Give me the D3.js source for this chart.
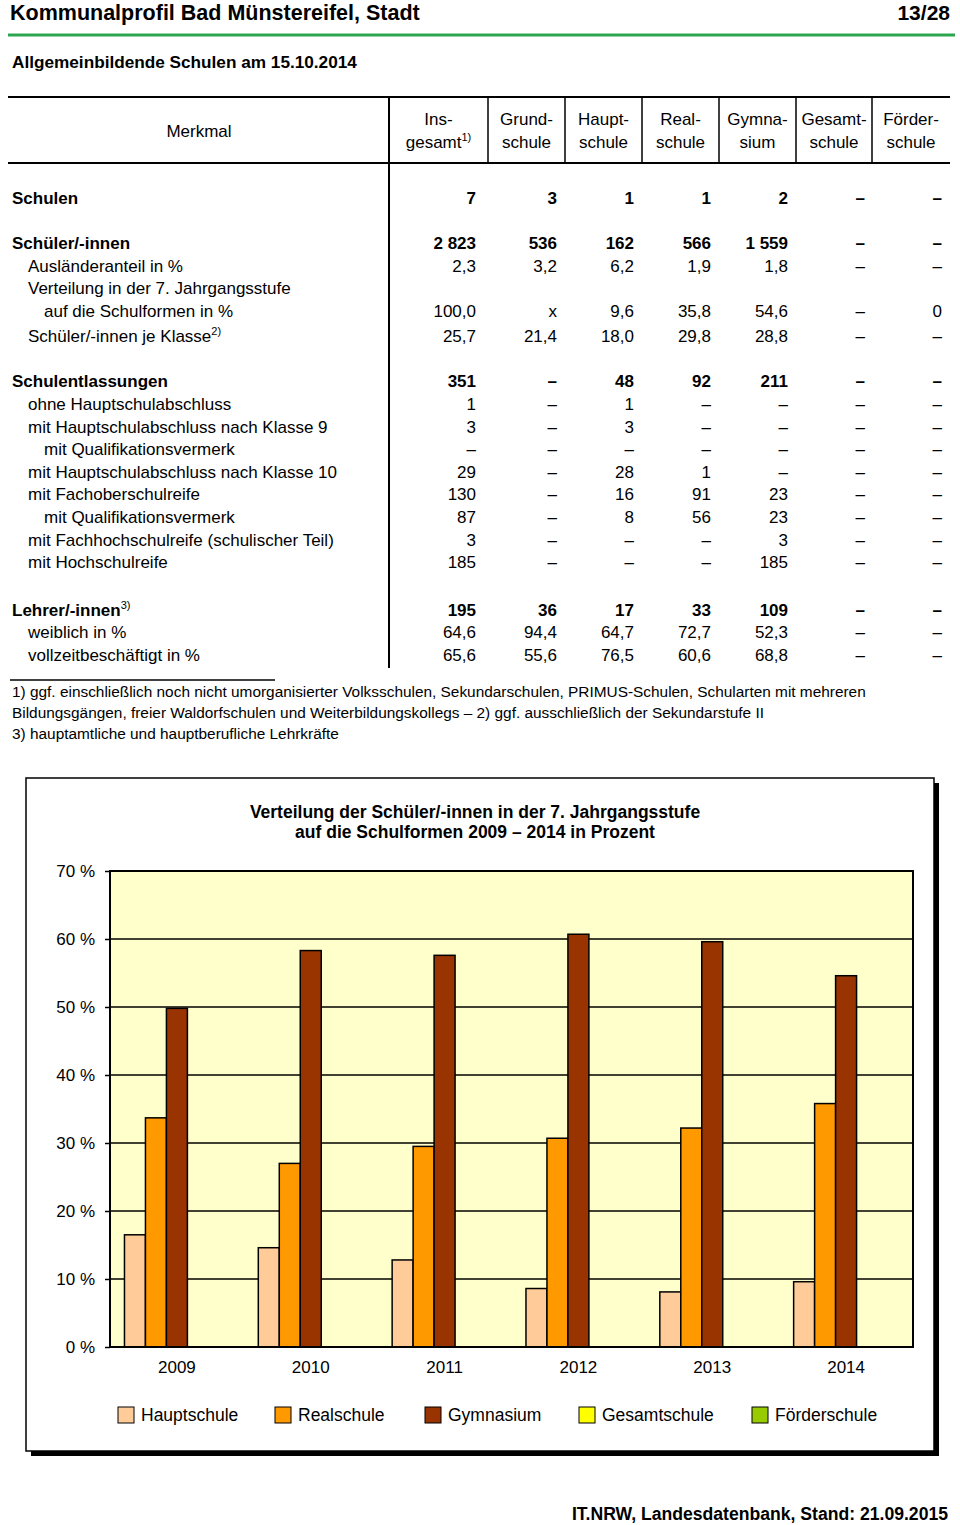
<!DOCTYPE html>
<html lang="de">
<head>
    <meta charset="UTF-8">
    <title>Kommunalprofil Bad Münstereifel</title>
    <script src="https://d3js.org/d3.v7.min.js"></script>
    <style>
        html, body {
            margin: 0;
            background: white;
            font-family: "Liberation Sans", Arial, sans-serif;
        }
    </style>
</head>
<body>
    <div id="vis"></div>
    <script>

        // ---- table data ----
        var columns = [['Ins-', 'gesamt'], ['Grund-', 'schule'], ['Haupt-', 'schule'], ['Real-', 'schule'],
                       ['Gymna-', 'sium'], ['Gesamt-', 'schule'], ['Förder-', 'schule']];

        var rowLabels = ['Schulen', null, 'Schüler/-innen', 'Ausländeranteil in %', 'Verteilung in der 7. Jahrgangsstufe',
                         'auf die Schulformen in %', 'Schüler/-innen je Klasse', null, 'Schulentlassungen',
                         'ohne Hauptschulabschluss', 'mit Hauptschulabschluss nach Klasse 9', 'mit Qualifikationsvermerk',
                         'mit Hauptschulabschluss nach Klasse 10', 'mit Fachoberschulreife', 'mit Qualifikationsvermerk',
                         'mit Fachhochschulreife (schulischer Teil)', 'mit Hochschulreife', null, 'Lehrer/-innen',
                         'weiblich in %', 'vollzeitbeschäftigt in %'];

        var rowLevels = [0, 0, 0, 1, 1, 2, 1, 0, 0, 1, 1, 2, 1, 1, 2, 1, 1, 0, 0, 1, 1];
        var rowNotes  = [null, null, null, null, null, null, '2)', null, null, null, null, null, null, null, null, null, null, null, '3)', null, null];

        var rowValues = [
            ['7', '3', '1', '1', '2', '–', '–'],
            null,
            ['2 823', '536', '162', '566', '1 559', '–', '–'],
            ['2,3', '3,2', '6,2', '1,9', '1,8', '–', '–'],
            null,
            ['100,0', 'x', '9,6', '35,8', '54,6', '–', '0'],
            ['25,7', '21,4', '18,0', '29,8', '28,8', '–', '–'],
            null,
            ['351', '–', '48', '92', '211', '–', '–'],
            ['1', '–', '1', '–', '–', '–', '–'],
            ['3', '–', '3', '–', '–', '–', '–'],
            ['–', '–', '–', '–', '–', '–', '–'],
            ['29', '–', '28', '1', '–', '–', '–'],
            ['130', '–', '16', '91', '23', '–', '–'],
            ['87', '–', '8', '56', '23', '–', '–'],
            ['3', '–', '–', '–', '3', '–', '–'],
            ['185', '–', '–', '–', '185', '–', '–'],
            null,
            ['195', '36', '17', '33', '109', '–', '–'],
            ['64,6', '94,4', '64,7', '72,7', '52,3', '–', '–'],
            ['65,6', '55,6', '76,5', '60,6', '68,8', '–', '–']
        ];

        var footnotes = [
            '1) ggf. einschließlich noch nicht umorganisierter Volksschulen, Sekundarschulen, PRIMUS-Schulen, Schularten mit mehreren',
            'Bildungsgängen, freier Waldorfschulen und Weiterbildungskollegs – 2) ggf. ausschließlich der Sekundarstufe II',
            '3) hauptamtliche und hauptberufliche Lehrkräfte'
        ];

        // ---- chart data ----
        var years = ['2009', '2010', '2011', '2012', '2013', '2014'];
        var series = ['Hauptschule', 'Realschule', 'Gymnasium', 'Gesamtschule', 'Förderschule'];
        var hauptschule  = [16.5, 14.6, 12.8, 8.6, 8.1, 9.6];
        var realschule   = [33.7, 27.0, 29.5, 30.7, 32.2, 35.8];
        var gymnasium    = [49.8, 58.3, 57.6, 60.7, 59.6, 54.6];
        var gesamtschule = [0, 0, 0, 0, 0, 0];
        var foerderschule = [0, 0, 0, 0, 0, 0];
        var yTicks = [0, 10, 20, 30, 40, 50, 60, 70];
        var seriesColours = ['#ffcc99', '#ff9900', '#993300', '#ffff00', '#99cc00'];

        var width = 960,
            height = 1525;

        var svg = d3.select('#vis')
                    .append('svg')
                        .attr('width', width)
                        .attr('height', height)
                        .style('font-family', '"Liberation Sans", Arial, sans-serif');

        // ---- page header ----
        svg.append('text')
            .attr('x', 10)
            .attr('y', 20)
            .attr('font-size', '21.5px')
            .attr('font-weight', 'bold')
            .text('Kommunalprofil Bad Münstereifel, Stadt');

        svg.append('text')
            .attr('x', 950)
            .attr('y', 20)
            .attr('font-size', '21px')
            .attr('font-weight', 'bold')
            .attr('text-anchor', 'end')
            .text('13/28');

        svg.append('line')
            .attr('x1', 8).attr('x2', 955)
            .attr('y1', 35).attr('y2', 35)
            .attr('stroke', '#2ca54f')
            .attr('stroke-width', 3);

        svg.append('text')
            .attr('x', 12)
            .attr('y', 68)
            .attr('font-size', '17.2px')
            .attr('font-weight', 'bold')
            .text('Allgemeinbildende Schulen am 15.10.2014');

        // ---- table ----
        var colEdges = [389, 488, 565, 642, 719, 796, 872, 950];
        var colRight = [476, 557, 634, 711, 788, 865, 942];
        var tableTop = 97,
            headBottom = 163,
            tableBottom = 668;

        var table = svg.append('g').attr('class', 'table');

        table.append('line')
            .attr('x1', 8).attr('x2', 950)
            .attr('y1', tableTop).attr('y2', tableTop)
            .attr('stroke', 'black').attr('stroke-width', 2);

        table.append('line')
            .attr('x1', 8).attr('x2', 950)
            .attr('y1', headBottom).attr('y2', headBottom)
            .attr('stroke', 'black').attr('stroke-width', 2);

        table.append('line')
            .attr('x1', colEdges[0]).attr('x2', colEdges[0])
            .attr('y1', tableTop).attr('y2', tableBottom)
            .attr('stroke', 'black').attr('stroke-width', 2);

        table.selectAll('.colsep')
            .data(colEdges.slice(1, 7))
            .enter()
            .append('line')
            .attr('class', 'colsep')
            .attr('x1', function(d){ return d; })
            .attr('x2', function(d){ return d; })
            .attr('y1', tableTop)
            .attr('y2', headBottom)
            .attr('stroke', 'black')
            .attr('stroke-width', 1.5);

        table.append('text')
            .attr('x', 199)
            .attr('y', 137)
            .attr('font-size', '17px')
            .attr('text-anchor', 'middle')
            .text('Merkmal');

        var heads = table.selectAll('.head')
            .data(columns)
            .enter()
            .append('text')
            .attr('class', 'head')
            .attr('font-size', '17px')
            .attr('text-anchor', 'middle')
            .attr('transform', function(d, i){
                return 'translate(' + ((colEdges[i] + colEdges[i + 1]) / 2) + ',0)';
            });

        heads.append('tspan')
            .attr('x', 0)
            .attr('y', 125)
            .text(function(d){ return d[0]; });

        heads.append('tspan')
            .attr('x', 0)
            .attr('y', 148)
            .text(function(d){ return d[1]; });

        heads.filter(function(d, i){ return i === 0; })
            .append('tspan')
            .attr('dy', -7)
            .attr('font-size', '11px')
            .text('1)');

        // row positions: fixed pitch, with a little extra room under rows carrying a note
        var rowY = [];
        var yy = 204;
        rowLabels.forEach(function(d, i){
            if (rowNotes[i] && i > 0) yy += 2.5;
            rowY.push(yy);
            yy += 22.6;
        });

        var rows = table.selectAll('.row')
            .data(rowLabels)
            .enter()
            .append('g')
            .attr('class', 'row')
            .attr('transform', function(d, i){ return 'translate(0,' + rowY[i] + ')'; })
            .attr('font-size', '17px')
            .attr('font-weight', function(d, i){ return rowLevels[i] === 0 ? 'bold' : 'normal'; });

        var labels = rows.append('text')
            .attr('x', function(d, i){ return 12 + rowLevels[i] * 16; })
            .text(function(d){ return d || ''; });

        labels.filter(function(d, i){ return rowNotes[i]; })
            .append('tspan')
            .attr('dy', -7)
            .attr('font-size', '11px')
            .attr('font-weight', 'normal')
            .text(function(d, i){ return rowNotes[rowLabels.indexOf(d)]; });

        rows.each(function(d, i){
            if (!rowValues[i]) return;
            d3.select(this).selectAll('.val')
                .data(rowValues[i])
                .enter()
                .append('text')
                .attr('class', 'val')
                .attr('x', function(v, j){ return colRight[j]; })
                .attr('text-anchor', 'end')
                .text(function(v){ return v; });
        });

        // footnotes
        svg.append('line')
            .attr('x1', 10).attr('x2', 275)
            .attr('y1', 680).attr('y2', 680)
            .attr('stroke', 'black').attr('stroke-width', 1.5);

        svg.selectAll('.footnote')
            .data(footnotes)
            .enter()
            .append('text')
            .attr('class', 'footnote')
            .attr('x', 12)
            .attr('y', function(d, i){ return 697 + i * 21; })
            .attr('font-size', '15.4px')
            .text(function(d){ return d; });

        // ---- chart ----
        var frame = {x: 26, y: 778, w: 908, h: 673};

        svg.append('rect')
            .attr('x', frame.x + 5)
            .attr('y', frame.y + 5)
            .attr('width', frame.w)
            .attr('height', frame.h)
            .attr('fill', 'black');

        svg.append('rect')
            .attr('x', frame.x)
            .attr('y', frame.y)
            .attr('width', frame.w)
            .attr('height', frame.h)
            .attr('fill', 'white')
            .attr('stroke', 'black')
            .attr('stroke-width', 1.5);

        svg.append('text')
            .attr('x', 475)
            .attr('text-anchor', 'middle')
            .attr('font-size', '17.5px')
            .attr('font-weight', 'bold')
            .selectAll('tspan')
            .data(['Verteilung der Schüler/-innen in der 7. Jahrgangsstufe', 'auf die Schulformen 2009 – 2014 in Prozent'])
            .enter()
            .append('tspan')
            .attr('x', 475)
            .attr('y', function(d, i){ return 818 + i * 20; })
            .text(function(d){ return d; });

        var plot = {left: 110, right: 913, top: 871, bottom: 1347};

        var x_scale = d3.scaleBand()
                    .domain(years)
                    .range([plot.left, plot.right]);

        var x_inner = d3.scaleBand()
                    .domain(series)
                    .range([0, x_scale.bandwidth()])
                    .paddingOuter(0.69);

        var y_scale = d3.scaleLinear()
                    .domain([0, 70])
                    .range([plot.bottom, plot.top]);

        var chart = svg.append('g').attr('class', 'chart');

        chart.append('rect')
            .attr('x', plot.left)
            .attr('y', plot.top)
            .attr('width', plot.right - plot.left)
            .attr('height', plot.bottom - plot.top)
            .attr('fill', '#ffffcc');

        chart.selectAll('.grid')
            .data(yTicks.slice(1, -1))
            .enter()
            .append('line')
            .attr('class', 'grid')
            .attr('x1', plot.left)
            .attr('x2', plot.right)
            .attr('y1', function(d){ return y_scale(d); })
            .attr('y2', function(d){ return y_scale(d); })
            .attr('stroke', 'black')
            .attr('stroke-width', 1.5);

        var tableSeries = [hauptschule, realschule, gymnasium, gesamtschule, foerderschule];
        var barData = [];
        years.forEach(function(year, i){
            series.forEach(function(s, j){
                barData.push({year: year, series: s, value: tableSeries[j][i], colour: seriesColours[j]});
            });
        });

        chart.selectAll('.bar')
            .data(barData.filter(function(d){ return d.value > 0; }))
            .enter()
            .append('rect')
            .attr('class', 'bar')
            .attr('x', function(d){ return x_scale(d.year) + x_inner(d.series); })
            .attr('width', x_inner.bandwidth())
            .attr('y', function(d){ return y_scale(d.value); })
            .attr('height', function(d){ return y_scale(0) - y_scale(d.value); })
            .attr('fill', function(d){ return d.colour; })
            .attr('stroke', 'black')
            .attr('stroke-width', 1.5);

        chart.append('rect')
            .attr('x', plot.left)
            .attr('y', plot.top)
            .attr('width', plot.right - plot.left)
            .attr('height', plot.bottom - plot.top)
            .attr('fill', 'none')
            .attr('stroke', 'black')
            .attr('stroke-width', 2);

        var y_axis = d3.axisLeft(y_scale)
                    .tickValues(yTicks)
                    .tickSize(5)
                    .tickPadding(10)
                    .tickFormat(function(d){ return d + ' %'; });

        chart.append('g')
            .attr('class', 'y axis')
            .attr('transform', 'translate(' + plot.left + ',0)')
            .call(y_axis)
            .call(function(g){ g.select('.domain').remove(); })
            .call(function(g){
                g.selectAll('line').attr('stroke', 'black').attr('stroke-width', 1.5);
                g.selectAll('text')
                    .attr('font-size', '17px')
                    .attr('font-family', '"Liberation Sans", Arial, sans-serif')
                    .attr('fill', 'black');
            });

        var x_axis = d3.axisBottom(x_scale)
                    .tickSize(0)
                    .tickPadding(14);

        chart.append('g')
            .attr('class', 'x axis')
            .attr('transform', 'translate(0,' + plot.bottom + ')')
            .call(x_axis)
            .call(function(g){ g.select('.domain').remove(); })
            .call(function(g){
                g.selectAll('text')
                    .attr('font-size', '17px')
                    .attr('font-family', '"Liberation Sans", Arial, sans-serif')
                    .attr('fill', 'black');
            });

        // legend
        var legendX = [118, 275, 425, 579, 752];

        var legend = chart.selectAll('.legend')
            .data(series)
            .enter()
            .append('g')
            .attr('class', 'legend')
            .attr('transform', function(d, i){ return 'translate(' + legendX[i] + ',1407)'; });

        legend.append('rect')
            .attr('width', 16)
            .attr('height', 16)
            .attr('fill', function(d, i){ return seriesColours[i]; })
            .attr('stroke', 'black')
            .attr('stroke-width', 1);

        legend.append('text')
            .attr('x', 23)
            .attr('y', 14)
            .attr('font-size', '17.5px')
            .text(function(d){ return d; });

        // source
        svg.append('text')
            .attr('x', 948)
            .attr('y', 1520)
            .attr('text-anchor', 'end')
            .attr('font-size', '17.6px')
            .attr('font-weight', 'bold')
            .text('IT.NRW, Landesdatenbank, Stand: 21.09.2015');

    </script>

</body>
</html>
